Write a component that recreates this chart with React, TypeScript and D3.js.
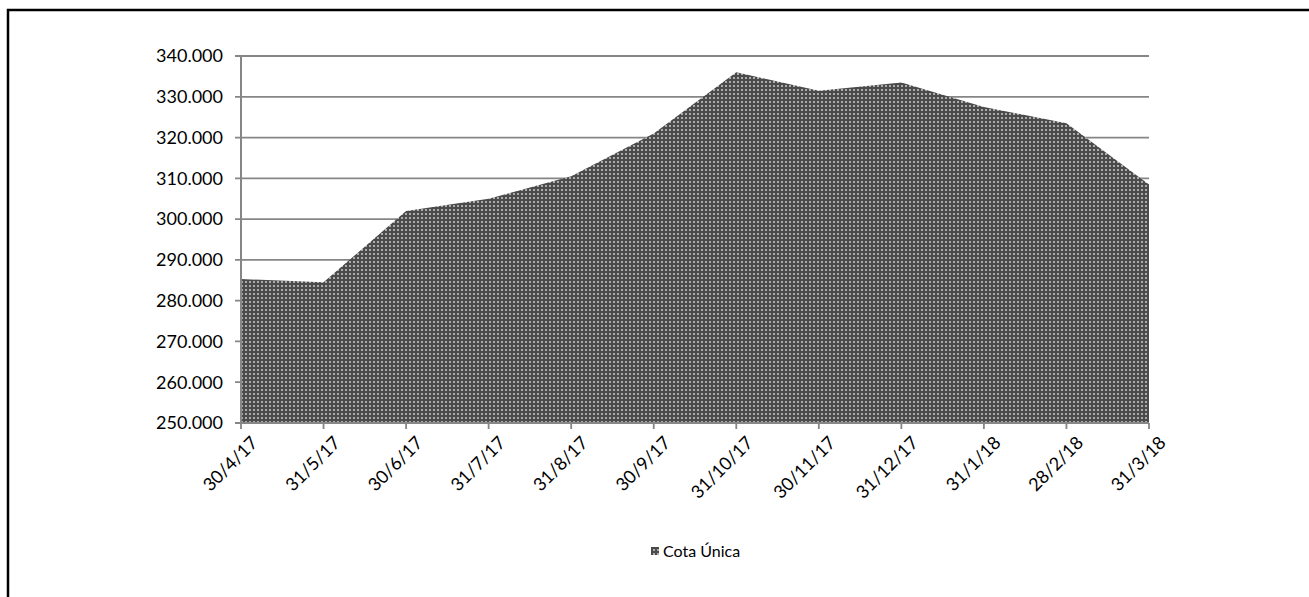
import React, { useEffect, useRef } from "react";
import * as d3 from "d3";

// dates on the category axis
const dates = ["30/4/17", "31/5/17", "30/6/17", "31/7/17", "31/8/17", "30/9/17", "31/10/17", "30/11/17", "31/12/17", "31/1/18", "28/2/18", "31/3/18"];
// Cota Única values (thousands)
const values = [285.3, 284.5, 302.0, 305.0, 310.5, 321.0, 336.0, 331.5, 333.5, 327.5, 323.5, 308.5];
const yTicks = [250, 260, 270, 280, 290, 300, 310, 320, 330, 340];
const seriesName = "Cota Única";

const App = () => {
  const ref = useRef<SVGSVGElement>(null);

  useEffect(() => {
    document.body.style.overflow = "hidden";
    const svg = d3.select(ref.current);
    svg.selectAll("*").remove();

    const width = 1309;
    const height = 597;
    const left = 241, right = 1149, top = 56, bottom = 423;
    const font = "Lato, 'Open Sans', sans-serif";
    const grey = "#868686";

    const x = d3.scalePoint<string>().domain(dates).range([left, right]);
    const y = d3.scaleLinear().domain([250, 340]).range([bottom, top]);

    // dotted fill pattern
    const defs = svg.append("defs");
    const pat = defs.append("pattern")
      .attr("id", "dots")
      .attr("patternUnits", "userSpaceOnUse")
      .attr("width", 4)
      .attr("height", 4);
    pat.append("rect").attr("width", 4).attr("height", 4).attr("fill", "#4b4b4b");
    pat.append("rect").attr("x", 1).attr("y", 1).attr("width", 2).attr("height", 2).attr("fill", "#acacac");

    // outer frame (right/bottom edges run off the page)
    svg.append("rect")
      .attr("x", 8).attr("y", 10)
      .attr("width", 1400).attr("height", 700)
      .attr("fill", "white")
      .attr("stroke", "black")
      .attr("stroke-width", 2.5);

    // gridlines + y labels
    yTicks.forEach(t => {
      svg.append("line")
        .attr("x1", left - 6).attr("x2", right)
        .attr("y1", y(t)).attr("y2", y(t))
        .attr("stroke", grey).attr("stroke-width", 1.8);
      svg.append("text")
        .attr("x", left - 18).attr("y", y(t))
        .attr("dy", "0.35em")
        .attr("text-anchor", "end")
        .attr("font-family", font).attr("font-size", 18)
        .attr("fill", "#000")
        .text(`${t}.000`);
    });

    // area
    const area = d3.area<number>()
      .x((_, i) => x(dates[i]) as number)
      .y0(y(250))
      .y1(d => y(d));
    svg.append("path")
      .datum(values)
      .attr("d", area)
      .attr("fill", "url(#dots)");

    // axis lines
    svg.append("line")
      .attr("x1", left).attr("x2", left)
      .attr("y1", top).attr("y2", bottom)
      .attr("stroke", grey).attr("stroke-width", 2);
    svg.append("line")
      .attr("x1", left - 6).attr("x2", right)
      .attr("y1", bottom).attr("y2", bottom)
      .attr("stroke", grey).attr("stroke-width", 2);

    // x ticks + rotated labels
    dates.forEach(d => {
      const px = x(d) as number;
      svg.append("line")
        .attr("x1", px).attr("x2", px)
        .attr("y1", bottom).attr("y2", bottom + 6)
        .attr("stroke", grey).attr("stroke-width", 1.8);
      svg.append("text")
        .attr("transform", `translate(${px + 9},${bottom + 12}) rotate(-45)`)
        .attr("text-anchor", "end")
        .attr("dy", "0.7em")
        .attr("font-family", font).attr("font-size", 18)
        .attr("fill", "#000")
        .text(d);
    });

    // legend
    svg.append("rect")
      .attr("x", 651).attr("y", 547)
      .attr("width", 8).attr("height", 8)
      .attr("fill", "url(#dots)");
    svg.append("text")
      .attr("x", 663).attr("y", 557)
      .attr("font-family", font).attr("font-size", 16)
      .attr("fill", "#000")
      .text(seriesName);

    svg.attr("width", width).attr("height", height);
  }, []);

  return <svg ref={ref} style={{ position: "absolute", left: 0, top: 0, display: "block" }}></svg>;
};

export default App;
